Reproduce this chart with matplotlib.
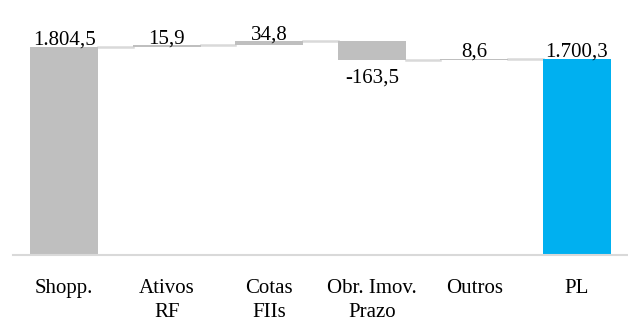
import matplotlib.pyplot as plt

categories = ['Shopp.', 'Ativos\nRF', 'Cotas\nFIIs', 'Obr. Imov.\nPrazo', 'Outros', 'PL']
values = [1804.5, 15.9, 34.8, -163.5, 8.6, 1700.3]
labels = ['1.804,5', '15,9', '34,8', '-163,5', '8,6', '1.700,3']

plt.rcParams['font.family'] = ['Liberation Serif', 'DejaVu Serif']

fig = plt.figure(figsize=(6.28, 3.21), dpi=100)
ax = fig.add_axes([13 / 628, 1 - 255 / 321, 615 / 628, 240 / 321])

x = range(len(categories))
bottoms = []
heights = []
colors = []
run = 0
for i, v in enumerate(values):
    if i == 0 or i == len(values) - 1:
        bottoms.append(0)
        heights.append(v)
        run = v
        colors.append('#00B0F0' if i == len(values) - 1 else '#BFBFBF')
    else:
        bottoms.append(run if v >= 0 else run + v)
        heights.append(abs(v))
        run += v
        colors.append('#BFBFBF')

w = 0.66
ax.bar(x, heights, bottom=bottoms, width=w, color=colors, zorder=2)

# linhas de ligacao
run = values[0]
for i in range(len(values) - 1):
    nxt = run + values[i + 1] if i + 1 < len(values) - 1 else values[-1]
    ax.plot([i + w / 2, i + 1 - w / 2], [run, run], color='#D9D9D9', lw=1.8, zorder=1)
    run = nxt

# rotulos
for i, v in enumerate(values):
    top = bottoms[i] + heights[i]
    if v < 0:
        ax.annotate(labels[i], (i, bottoms[i]), xytext=(0, -6), textcoords='offset points',
                    ha='center', va='top', fontsize=15)
    else:
        ax.annotate(labels[i], (i, top), xytext=(0, 1.5), textcoords='offset points',
                    ha='center', va='baseline', fontsize=15)

ax.set_xlim(-0.5, len(values) - 0.5)
ax.set_ylim(0, 240 / 0.11527)
ax.set_xticks(list(x))
ax.set_xticklabels(categories, fontsize=15, linespacing=1.35)
ax.tick_params(axis='x', length=0, pad=17)
ax.set_yticks([])
for s in ['top', 'right', 'left']:
    ax.spines[s].set_visible(False)
ax.spines['bottom'].set_color('#D9D9D9')
ax.spines['bottom'].set_linewidth(1.5)

fig.savefig('out.png', dpi=100)
